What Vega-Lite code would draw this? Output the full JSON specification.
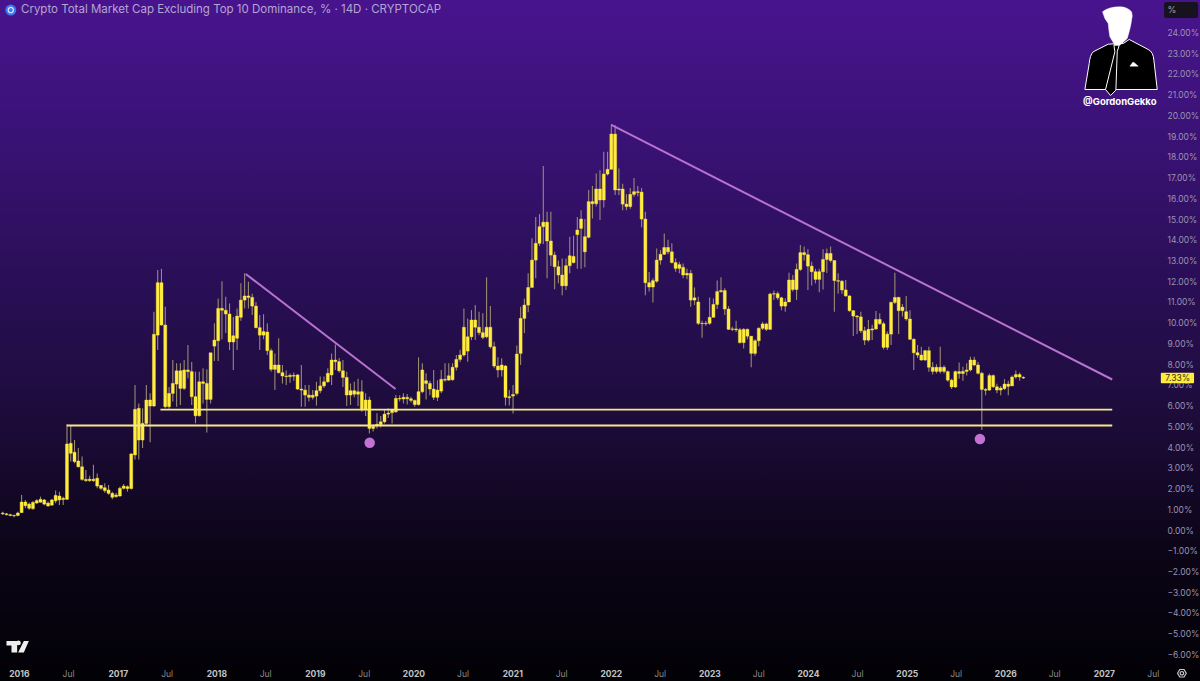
{
  "$schema": "https://vega.github.io/schema/vega-lite/v6.json",
  "width": 1200,
  "height": 681,
  "padding": 0,
  "autosize": {"type": "none"},
  "background": "#020105",
  "view": {
    "stroke": null,
    "fill": {
      "gradient": "linear",
      "x1": 0, "y1": 0, "x2": 0, "y2": 1,
      "stops": [
        {"offset": 0, "color": "#48148e"},
        {"offset": 0.2, "color": "#3a1276"},
        {"offset": 0.4, "color": "#2a0f58"},
        {"offset": 0.6, "color": "#1e0c3c"},
        {"offset": 0.8, "color": "#0c0518"},
        {"offset": 1, "color": "#020105"}
      ]
    }
  },
  "title": {
    "text": "Crypto Total Market Cap Excluding Top 10 Dominance, % · 14D · CRYPTOCAP",
    "anchor": "start",
    "frame": "group",
    "offset": -15,
    "dx": 21,
    "font": "Inter",
    "fontSize": 11.5,
    "fontWeight": "normal",
    "color": "#b5a6d2"
  },
  "datasets": {
    "candles": [
      {"d":"2015-11-02","o":0.82,"h":0.88,"l":0.72,"c":0.78},
      {"d":"2015-11-16","o":0.78,"h":0.82,"l":0.70,"c":0.74},
      {"d":"2015-11-30","o":0.74,"h":0.78,"l":0.66,"c":0.70},
      {"d":"2015-12-14","o":0.70,"h":0.75,"l":0.62,"c":0.68},
      {"d":"2015-12-28","o":0.70,"h":0.88,"l":0.66,"c":0.82},
      {"d":"2016-01-11","o":0.84,"h":1.69,"l":0.82,"c":1.35},
      {"d":"2016-01-25","o":1.35,"h":1.45,"l":1.05,"c":1.17},
      {"d":"2016-02-08","o":1.25,"h":1.33,"l":0.98,"c":1.05},
      {"d":"2016-02-22","o":1.03,"h":1.40,"l":0.98,"c":1.33},
      {"d":"2016-03-07","o":1.30,"h":1.48,"l":1.27,"c":1.42},
      {"d":"2016-03-21","o":1.34,"h":1.61,"l":1.32,"c":1.48},
      {"d":"2016-04-04","o":1.45,"h":1.50,"l":1.20,"c":1.25},
      {"d":"2016-04-18","o":1.30,"h":1.38,"l":1.12,"c":1.16},
      {"d":"2016-05-02","o":1.20,"h":1.50,"l":1.17,"c":1.45},
      {"d":"2016-05-16","o":1.41,"h":1.90,"l":1.29,"c":1.67},
      {"d":"2016-05-30","o":1.64,"h":1.85,"l":1.21,"c":1.45},
      {"d":"2016-06-13","o":1.47,"h":1.61,"l":1.21,"c":1.53},
      {"d":"2016-06-27","o":1.48,"h":5.10,"l":1.45,"c":4.15},
      {"d":"2016-07-11","o":4.18,"h":5.05,"l":3.30,"c":3.70},
      {"d":"2016-07-25","o":3.75,"h":4.34,"l":3.22,"c":3.30},
      {"d":"2016-08-08","o":3.33,"h":3.95,"l":3.02,"c":3.05},
      {"d":"2016-08-22","o":3.05,"h":3.54,"l":2.38,"c":2.44},
      {"d":"2016-09-05","o":2.44,"h":2.89,"l":2.33,"c":2.38},
      {"d":"2016-09-19","o":2.38,"h":2.62,"l":2.33,"c":2.45},
      {"d":"2016-10-03","o":2.45,"h":3.15,"l":2.33,"c":2.38},
      {"d":"2016-10-17","o":2.50,"h":2.73,"l":2.01,"c":2.12},
      {"d":"2016-10-31","o":2.15,"h":2.17,"l":1.93,"c":2.01},
      {"d":"2016-11-14","o":2.04,"h":2.25,"l":1.80,"c":1.90},
      {"d":"2016-11-28","o":1.93,"h":2.17,"l":1.70,"c":1.77},
      {"d":"2016-12-12","o":1.77,"h":1.85,"l":1.48,"c":1.58},
      {"d":"2016-12-26","o":1.61,"h":1.80,"l":1.55,"c":1.69},
      {"d":"2017-01-09","o":1.64,"h":2.09,"l":1.61,"c":2.01},
      {"d":"2017-01-23","o":2.01,"h":2.22,"l":1.95,"c":2.12},
      {"d":"2017-02-06","o":2.09,"h":2.15,"l":1.85,"c":2.00},
      {"d":"2017-02-20","o":2.00,"h":3.70,"l":1.95,"c":3.67},
      {"d":"2017-03-06","o":3.62,"h":7.00,"l":3.40,"c":5.82},
      {"d":"2017-03-20","o":5.87,"h":6.10,"l":3.40,"c":4.34},
      {"d":"2017-04-03","o":4.34,"h":5.87,"l":3.95,"c":5.14},
      {"d":"2017-04-17","o":5.14,"h":7.00,"l":5.07,"c":6.27},
      {"d":"2017-05-01","o":6.27,"h":6.60,"l":4.23,"c":5.98},
      {"d":"2017-05-15","o":5.98,"h":10.53,"l":5.95,"c":9.44},
      {"d":"2017-05-29","o":9.40,"h":12.54,"l":8.68,"c":11.93},
      {"d":"2017-06-12","o":11.93,"h":12.60,"l":9.85,"c":9.89},
      {"d":"2017-06-26","o":9.89,"h":10.77,"l":5.87,"c":5.95},
      {"d":"2017-07-10","o":5.95,"h":6.90,"l":5.85,"c":6.59},
      {"d":"2017-07-24","o":6.59,"h":8.20,"l":6.20,"c":7.07},
      {"d":"2017-08-07","o":7.04,"h":8.04,"l":5.95,"c":7.68},
      {"d":"2017-08-21","o":7.68,"h":8.04,"l":6.03,"c":6.83},
      {"d":"2017-09-04","o":6.83,"h":8.20,"l":6.75,"c":7.72},
      {"d":"2017-09-18","o":7.72,"h":8.92,"l":7.32,"c":7.64},
      {"d":"2017-10-02","o":7.64,"h":8.10,"l":6.03,"c":6.43},
      {"d":"2017-10-16","o":6.43,"h":7.64,"l":5.15,"c":5.51},
      {"d":"2017-10-30","o":5.51,"h":7.64,"l":5.47,"c":7.15},
      {"d":"2017-11-13","o":7.15,"h":7.80,"l":6.10,"c":7.07},
      {"d":"2017-11-27","o":7.07,"h":7.75,"l":4.70,"c":6.30},
      {"d":"2017-12-11","o":6.30,"h":8.55,"l":6.10,"c":8.55},
      {"d":"2017-12-25","o":8.87,"h":9.97,"l":8.15,"c":9.16},
      {"d":"2018-01-08","o":9.13,"h":11.17,"l":8.15,"c":10.69},
      {"d":"2018-01-22","o":10.69,"h":12.00,"l":9.20,"c":10.60},
      {"d":"2018-02-05","o":10.60,"h":11.25,"l":9.50,"c":10.42},
      {"d":"2018-02-19","o":10.42,"h":10.93,"l":8.68,"c":9.07},
      {"d":"2018-03-05","o":9.07,"h":10.28,"l":7.72,"c":9.37},
      {"d":"2018-03-19","o":9.25,"h":10.69,"l":8.68,"c":10.32},
      {"d":"2018-04-02","o":10.26,"h":11.90,"l":10.10,"c":11.09},
      {"d":"2018-04-16","o":11.09,"h":12.38,"l":10.69,"c":11.29},
      {"d":"2018-04-30","o":11.29,"h":11.97,"l":10.69,"c":11.22},
      {"d":"2018-05-14","o":11.22,"h":11.40,"l":10.37,"c":10.80},
      {"d":"2018-05-28","o":10.80,"h":11.00,"l":9.73,"c":9.76},
      {"d":"2018-06-11","o":9.76,"h":10.37,"l":8.68,"c":9.40},
      {"d":"2018-06-25","o":9.40,"h":10.41,"l":9.20,"c":9.57},
      {"d":"2018-07-09","o":9.55,"h":9.97,"l":8.44,"c":8.65},
      {"d":"2018-07-23","o":8.65,"h":8.76,"l":7.64,"c":7.75},
      {"d":"2018-08-06","o":7.75,"h":8.52,"l":6.75,"c":7.96},
      {"d":"2018-08-20","o":7.96,"h":9.25,"l":7.55,"c":7.59},
      {"d":"2018-09-03","o":7.59,"h":7.96,"l":7.07,"c":7.43},
      {"d":"2018-09-17","o":7.43,"h":7.70,"l":7.00,"c":7.40},
      {"d":"2018-10-01","o":7.40,"h":7.55,"l":7.10,"c":7.46},
      {"d":"2018-10-15","o":7.46,"h":7.60,"l":7.20,"c":7.42},
      {"d":"2018-10-29","o":7.48,"h":7.52,"l":6.75,"c":6.80},
      {"d":"2018-11-12","o":6.80,"h":7.96,"l":5.95,"c":6.75},
      {"d":"2018-11-26","o":6.75,"h":7.00,"l":5.95,"c":6.51},
      {"d":"2018-12-10","o":6.51,"h":7.00,"l":6.20,"c":6.40},
      {"d":"2018-12-24","o":6.40,"h":6.75,"l":6.30,"c":6.50},
      {"d":"2019-01-07","o":6.46,"h":7.15,"l":6.00,"c":6.72},
      {"d":"2019-01-21","o":6.72,"h":7.40,"l":6.60,"c":6.95},
      {"d":"2019-02-04","o":6.95,"h":7.40,"l":6.85,"c":7.15},
      {"d":"2019-02-18","o":7.15,"h":7.80,"l":7.10,"c":7.56},
      {"d":"2019-03-04","o":7.48,"h":8.52,"l":7.00,"c":8.20},
      {"d":"2019-03-18","o":8.20,"h":8.95,"l":7.72,"c":8.12},
      {"d":"2019-04-01","o":8.12,"h":8.30,"l":7.60,"c":7.68},
      {"d":"2019-04-15","o":7.68,"h":8.20,"l":6.90,"c":7.36},
      {"d":"2019-04-29","o":7.36,"h":7.64,"l":5.98,"c":6.51},
      {"d":"2019-05-13","o":6.51,"h":7.07,"l":6.03,"c":6.72},
      {"d":"2019-05-27","o":6.72,"h":7.15,"l":6.40,"c":6.55},
      {"d":"2019-06-10","o":6.55,"h":7.30,"l":5.98,"c":6.67},
      {"d":"2019-06-24","o":6.67,"h":7.23,"l":5.71,"c":5.79},
      {"d":"2019-07-08","o":5.80,"h":6.60,"l":5.50,"c":6.27},
      {"d":"2019-07-22","o":6.27,"h":6.43,"l":4.66,"c":4.90},
      {"d":"2019-08-05","o":4.90,"h":5.10,"l":4.75,"c":5.00},
      {"d":"2019-08-19","o":5.02,"h":5.63,"l":4.90,"c":5.10},
      {"d":"2019-09-02","o":5.08,"h":5.50,"l":4.95,"c":5.22},
      {"d":"2019-09-16","o":5.22,"h":5.79,"l":5.14,"c":5.59},
      {"d":"2019-09-30","o":5.59,"h":5.87,"l":5.40,"c":5.64},
      {"d":"2019-10-14","o":5.66,"h":5.85,"l":5.14,"c":5.79},
      {"d":"2019-10-28","o":5.70,"h":6.51,"l":5.66,"c":6.35},
      {"d":"2019-11-11","o":6.35,"h":6.50,"l":6.20,"c":6.32},
      {"d":"2019-11-25","o":6.32,"h":6.60,"l":6.10,"c":6.40},
      {"d":"2019-12-09","o":6.40,"h":6.56,"l":6.05,"c":6.33},
      {"d":"2019-12-23","o":6.33,"h":6.43,"l":6.15,"c":6.25},
      {"d":"2020-01-06","o":6.25,"h":6.30,"l":5.95,"c":6.05},
      {"d":"2020-01-20","o":6.05,"h":8.33,"l":6.00,"c":6.67},
      {"d":"2020-02-03","o":6.67,"h":8.04,"l":6.60,"c":7.72},
      {"d":"2020-02-17","o":7.20,"h":7.56,"l":6.30,"c":7.07},
      {"d":"2020-03-02","o":7.07,"h":7.20,"l":6.50,"c":6.80},
      {"d":"2020-03-16","o":6.80,"h":7.72,"l":6.27,"c":6.40},
      {"d":"2020-03-30","o":6.40,"h":7.23,"l":6.22,"c":6.75},
      {"d":"2020-04-13","o":6.70,"h":7.72,"l":6.60,"c":7.27},
      {"d":"2020-04-27","o":7.27,"h":8.04,"l":7.15,"c":7.23},
      {"d":"2020-05-11","o":7.23,"h":8.04,"l":7.20,"c":7.44},
      {"d":"2020-05-25","o":7.25,"h":8.04,"l":7.20,"c":7.85},
      {"d":"2020-06-08","o":7.85,"h":8.44,"l":7.70,"c":8.23},
      {"d":"2020-06-22","o":8.23,"h":8.70,"l":8.10,"c":8.44},
      {"d":"2020-07-06","o":8.44,"h":10.69,"l":8.36,"c":9.78},
      {"d":"2020-07-20","o":9.32,"h":10.20,"l":8.12,"c":8.63},
      {"d":"2020-08-03","o":9.32,"h":10.61,"l":9.16,"c":10.13},
      {"d":"2020-08-17","o":10.13,"h":10.85,"l":9.16,"c":9.78},
      {"d":"2020-08-31","o":9.78,"h":10.53,"l":9.40,"c":9.52},
      {"d":"2020-09-14","o":9.52,"h":10.45,"l":9.20,"c":9.29},
      {"d":"2020-09-28","o":9.32,"h":12.19,"l":9.25,"c":9.78},
      {"d":"2020-10-12","o":9.78,"h":10.80,"l":8.76,"c":8.84},
      {"d":"2020-10-26","o":8.84,"h":9.08,"l":7.80,"c":7.91},
      {"d":"2020-11-09","o":7.91,"h":8.33,"l":7.36,"c":7.72},
      {"d":"2020-11-23","o":7.72,"h":8.28,"l":7.40,"c":7.96},
      {"d":"2020-12-07","o":7.91,"h":7.96,"l":6.00,"c":6.40},
      {"d":"2020-12-21","o":6.38,"h":6.75,"l":6.00,"c":6.43},
      {"d":"2021-01-04","o":6.46,"h":7.00,"l":5.62,"c":6.54},
      {"d":"2021-01-18","o":6.59,"h":8.90,"l":6.50,"c":8.49},
      {"d":"2021-02-01","o":8.52,"h":10.77,"l":7.96,"c":10.21},
      {"d":"2021-02-15","o":10.21,"h":11.17,"l":9.50,"c":10.85},
      {"d":"2021-03-01","o":10.85,"h":12.38,"l":10.50,"c":11.70},
      {"d":"2021-03-15","o":11.70,"h":14.07,"l":11.74,"c":13.02},
      {"d":"2021-03-29","o":13.02,"h":15.10,"l":12.14,"c":13.83},
      {"d":"2021-04-12","o":13.83,"h":15.24,"l":13.70,"c":14.63},
      {"d":"2021-04-26","o":14.63,"h":17.56,"l":13.80,"c":14.85},
      {"d":"2021-05-10","o":14.85,"h":15.35,"l":12.14,"c":13.94},
      {"d":"2021-05-24","o":13.94,"h":15.35,"l":12.73,"c":13.26},
      {"d":"2021-06-07","o":13.26,"h":13.42,"l":11.61,"c":12.70},
      {"d":"2021-06-21","o":12.70,"h":13.00,"l":11.90,"c":12.30},
      {"d":"2021-07-05","o":12.30,"h":13.10,"l":11.33,"c":11.78},
      {"d":"2021-07-19","o":11.78,"h":13.10,"l":11.58,"c":12.75},
      {"d":"2021-08-02","o":12.75,"h":14.15,"l":12.38,"c":13.23},
      {"d":"2021-08-16","o":13.20,"h":14.20,"l":12.86,"c":12.90},
      {"d":"2021-08-30","o":14.25,"h":15.10,"l":12.60,"c":14.47},
      {"d":"2021-09-13","o":14.55,"h":15.43,"l":12.60,"c":15.00},
      {"d":"2021-09-27","o":14.15,"h":15.00,"l":12.67,"c":13.42},
      {"d":"2021-10-11","o":14.12,"h":16.40,"l":14.07,"c":15.84},
      {"d":"2021-10-25","o":15.84,"h":16.59,"l":15.03,"c":15.74},
      {"d":"2021-11-08","o":15.74,"h":17.20,"l":15.60,"c":16.45},
      {"d":"2021-11-22","o":16.45,"h":17.35,"l":14.95,"c":15.92},
      {"d":"2021-12-06","o":15.92,"h":18.25,"l":15.56,"c":17.17},
      {"d":"2021-12-20","o":17.17,"h":18.25,"l":17.10,"c":17.40},
      {"d":"2022-01-03","o":17.40,"h":19.58,"l":17.40,"c":19.10},
      {"d":"2022-01-17","o":19.10,"h":19.53,"l":16.16,"c":16.40},
      {"d":"2022-01-31","o":16.40,"h":17.44,"l":16.16,"c":16.45},
      {"d":"2022-02-14","o":16.45,"h":16.70,"l":15.43,"c":15.72},
      {"d":"2022-02-28","o":15.72,"h":16.20,"l":15.43,"c":15.60},
      {"d":"2022-03-14","o":15.60,"h":16.50,"l":15.50,"c":16.19},
      {"d":"2022-03-28","o":16.19,"h":16.98,"l":16.08,"c":16.32},
      {"d":"2022-04-11","o":16.32,"h":16.60,"l":16.10,"c":16.28},
      {"d":"2022-04-25","o":16.30,"h":16.50,"l":14.60,"c":15.00},
      {"d":"2022-05-09","o":15.00,"h":15.35,"l":11.33,"c":11.93},
      {"d":"2022-05-23","o":11.93,"h":12.45,"l":11.50,"c":11.72},
      {"d":"2022-06-06","o":11.72,"h":12.14,"l":10.97,"c":12.03},
      {"d":"2022-06-20","o":12.00,"h":13.58,"l":11.93,"c":13.02},
      {"d":"2022-07-04","o":13.02,"h":13.50,"l":12.80,"c":13.30},
      {"d":"2022-07-18","o":13.30,"h":14.30,"l":13.26,"c":13.63},
      {"d":"2022-08-01","o":13.63,"h":14.00,"l":13.30,"c":13.42},
      {"d":"2022-08-15","o":13.42,"h":13.83,"l":12.86,"c":12.90},
      {"d":"2022-08-29","o":12.90,"h":13.10,"l":12.46,"c":12.62},
      {"d":"2022-09-12","o":12.62,"h":12.94,"l":12.38,"c":12.80},
      {"d":"2022-09-26","o":12.67,"h":12.86,"l":12.14,"c":12.30},
      {"d":"2022-10-10","o":12.30,"h":12.60,"l":12.10,"c":12.38},
      {"d":"2022-10-24","o":12.38,"h":12.54,"l":10.77,"c":11.09},
      {"d":"2022-11-07","o":11.09,"h":11.70,"l":10.85,"c":11.20},
      {"d":"2022-11-21","o":11.00,"h":11.25,"l":9.89,"c":9.97},
      {"d":"2022-12-05","o":9.97,"h":10.10,"l":9.27,"c":9.95},
      {"d":"2022-12-19","o":9.95,"h":10.08,"l":9.85,"c":9.97},
      {"d":"2023-01-02","o":9.97,"h":11.22,"l":9.90,"c":10.26},
      {"d":"2023-01-16","o":10.26,"h":11.17,"l":10.26,"c":10.88},
      {"d":"2023-01-30","o":10.88,"h":12.03,"l":10.66,"c":11.50},
      {"d":"2023-02-13","o":11.50,"h":12.19,"l":11.45,"c":11.55},
      {"d":"2023-02-27","o":11.55,"h":11.66,"l":10.37,"c":10.66},
      {"d":"2023-03-13","o":10.66,"h":10.80,"l":9.65,"c":9.68},
      {"d":"2023-03-27","o":9.68,"h":9.80,"l":9.60,"c":9.70},
      {"d":"2023-04-10","o":9.70,"h":10.10,"l":9.55,"c":9.66},
      {"d":"2023-04-24","o":9.66,"h":9.75,"l":9.00,"c":9.04},
      {"d":"2023-05-08","o":9.04,"h":9.73,"l":8.76,"c":9.68},
      {"d":"2023-05-22","o":9.68,"h":9.72,"l":9.20,"c":9.35},
      {"d":"2023-06-05","o":9.35,"h":9.36,"l":7.85,"c":8.52},
      {"d":"2023-06-19","o":8.52,"h":9.20,"l":8.40,"c":9.13},
      {"d":"2023-07-03","o":9.13,"h":9.78,"l":8.87,"c":9.73},
      {"d":"2023-07-17","o":9.73,"h":10.05,"l":9.65,"c":9.94},
      {"d":"2023-07-31","o":9.94,"h":10.00,"l":9.60,"c":9.68},
      {"d":"2023-08-14","o":9.68,"h":11.45,"l":9.65,"c":11.38},
      {"d":"2023-08-28","o":11.38,"h":11.55,"l":11.10,"c":11.40},
      {"d":"2023-09-11","o":11.40,"h":11.50,"l":11.10,"c":11.20},
      {"d":"2023-09-25","o":11.20,"h":11.25,"l":10.60,"c":10.80},
      {"d":"2023-10-09","o":10.80,"h":11.18,"l":10.53,"c":11.00},
      {"d":"2023-10-23","o":11.00,"h":12.41,"l":11.00,"c":12.06},
      {"d":"2023-11-06","o":12.06,"h":12.30,"l":11.50,"c":11.60},
      {"d":"2023-11-20","o":11.60,"h":12.86,"l":11.09,"c":12.57},
      {"d":"2023-12-04","o":12.57,"h":13.75,"l":12.50,"c":13.38},
      {"d":"2023-12-18","o":13.38,"h":13.67,"l":13.00,"c":13.28},
      {"d":"2024-01-01","o":13.28,"h":13.54,"l":11.58,"c":12.73},
      {"d":"2024-01-15","o":12.73,"h":12.94,"l":11.80,"c":12.46},
      {"d":"2024-01-29","o":12.46,"h":12.60,"l":11.90,"c":12.09},
      {"d":"2024-02-12","o":12.09,"h":12.60,"l":11.47,"c":12.46},
      {"d":"2024-02-26","o":12.46,"h":13.54,"l":11.60,"c":13.05},
      {"d":"2024-03-11","o":13.05,"h":13.58,"l":12.40,"c":13.34},
      {"d":"2024-03-25","o":13.34,"h":13.67,"l":12.90,"c":13.00},
      {"d":"2024-04-08","o":13.00,"h":13.00,"l":10.53,"c":12.03},
      {"d":"2024-04-22","o":12.03,"h":12.38,"l":11.40,"c":12.00},
      {"d":"2024-05-06","o":12.00,"h":12.06,"l":11.40,"c":11.58},
      {"d":"2024-05-20","o":11.58,"h":12.06,"l":11.25,"c":11.29},
      {"d":"2024-06-03","o":11.29,"h":11.33,"l":10.53,"c":10.58},
      {"d":"2024-06-17","o":10.58,"h":10.61,"l":9.36,"c":10.32},
      {"d":"2024-07-01","o":10.32,"h":10.37,"l":9.45,"c":10.28},
      {"d":"2024-07-15","o":10.28,"h":10.53,"l":9.50,"c":9.61},
      {"d":"2024-07-29","o":9.61,"h":9.80,"l":8.92,"c":9.16},
      {"d":"2024-08-12","o":9.16,"h":10.13,"l":9.08,"c":9.68},
      {"d":"2024-08-26","o":9.65,"h":9.90,"l":9.16,"c":9.70},
      {"d":"2024-09-09","o":9.70,"h":10.56,"l":9.65,"c":10.16},
      {"d":"2024-09-23","o":10.16,"h":10.45,"l":9.90,"c":9.95},
      {"d":"2024-10-07","o":9.95,"h":10.05,"l":8.71,"c":8.81},
      {"d":"2024-10-21","o":8.81,"h":9.57,"l":8.68,"c":9.45},
      {"d":"2024-11-04","o":9.45,"h":11.01,"l":8.92,"c":10.98},
      {"d":"2024-11-18","o":10.98,"h":12.41,"l":10.90,"c":11.22},
      {"d":"2024-12-02","o":11.22,"h":11.25,"l":9.45,"c":10.58},
      {"d":"2024-12-16","o":10.58,"h":10.90,"l":10.30,"c":10.75},
      {"d":"2024-12-30","o":10.53,"h":11.29,"l":10.10,"c":10.18},
      {"d":"2025-01-13","o":10.18,"h":10.60,"l":9.16,"c":9.20},
      {"d":"2025-01-27","o":9.20,"h":9.25,"l":7.72,"c":8.55},
      {"d":"2025-02-10","o":8.55,"h":8.92,"l":8.30,"c":8.44},
      {"d":"2025-02-24","o":8.44,"h":8.84,"l":8.17,"c":8.20},
      {"d":"2025-03-10","o":8.20,"h":8.68,"l":8.15,"c":8.65},
      {"d":"2025-03-24","o":8.65,"h":8.84,"l":7.64,"c":7.85},
      {"d":"2025-04-07","o":7.85,"h":8.10,"l":7.50,"c":7.65},
      {"d":"2025-04-21","o":7.65,"h":8.00,"l":7.55,"c":7.85},
      {"d":"2025-05-05","o":7.85,"h":8.84,"l":7.55,"c":7.65},
      {"d":"2025-05-19","o":7.65,"h":7.95,"l":7.55,"c":7.85},
      {"d":"2025-06-02","o":7.64,"h":7.70,"l":7.15,"c":7.23},
      {"d":"2025-06-16","o":7.23,"h":7.30,"l":6.80,"c":6.90},
      {"d":"2025-06-30","o":6.90,"h":7.70,"l":6.85,"c":7.64},
      {"d":"2025-07-14","o":7.64,"h":8.08,"l":7.30,"c":7.55},
      {"d":"2025-07-28","o":7.55,"h":7.88,"l":7.20,"c":7.65},
      {"d":"2025-08-11","o":7.65,"h":8.04,"l":7.45,"c":7.72},
      {"d":"2025-08-25","o":7.72,"h":8.36,"l":7.65,"c":8.20},
      {"d":"2025-09-08","o":8.20,"h":8.36,"l":7.90,"c":7.96},
      {"d":"2025-09-22","o":7.96,"h":8.10,"l":7.50,"c":7.56},
      {"d":"2025-10-06","o":7.56,"h":7.64,"l":4.82,"c":6.78},
      {"d":"2025-10-20","o":6.78,"h":6.85,"l":6.50,"c":6.74},
      {"d":"2025-11-03","o":6.75,"h":7.55,"l":6.70,"c":7.45},
      {"d":"2025-11-17","o":7.45,"h":7.50,"l":6.85,"c":6.91},
      {"d":"2025-12-01","o":6.91,"h":7.05,"l":6.60,"c":6.75},
      {"d":"2025-12-15","o":6.75,"h":6.95,"l":6.50,"c":6.85},
      {"d":"2025-12-29","o":6.82,"h":7.28,"l":6.75,"c":7.04},
      {"d":"2026-01-12","o":7.04,"h":7.20,"l":6.50,"c":6.93},
      {"d":"2026-01-26","o":6.95,"h":7.45,"l":7.00,"c":7.38},
      {"d":"2026-02-09","o":7.38,"h":7.70,"l":7.30,"c":7.50},
      {"d":"2026-02-23","o":7.50,"h":7.60,"l":7.20,"c":7.38},
      {"d":"2026-03-09","o":7.36,"h":7.42,"l":7.28,"c":7.33}
    ]
  },
  "data": {"name": "candles"},
  "encoding": {
    "x": {
      "field": "d",
      "type": "temporal",
      "title": null,
      "scale": {
        "type": "utc",
        "padding": 0,
        "domain": [
          {"year": 2015, "month": 10, "date": 23, "utc": true},
          {"year": 2027, "month": 12, "date": 23, "utc": true}
        ]
      },
      "axis": {
        "orient": "bottom",
        "offset": -16,
        "zindex": 0,
        "grid": false,
        "domain": false,
        "ticks": false,
        "labelPadding": 8,
        "labelBaseline": "middle",
        "labelFont": "Inter",
        "labelFontSize": 8.5,
        "labelOverlap": false,
        "labelFlush": false,
        "labelFontWeight": {"condition": {"test": "utcmonth(datum.value) === 0", "value": "bold"}, "value": "normal"},
        "labelColor": {"condition": {"test": "utcmonth(datum.value) === 0", "value": "#c4c4c4"}, "value": "#8a8a8a"},
        "labelExpr": "utcmonth(datum.value) === 0 ? '' + utcyear(datum.value) : 'Jul'",
        "values": [
          {"year": 2016, "month": 1, "date": 1, "utc": true}, {"year": 2016, "month": 7, "date": 1, "utc": true},
          {"year": 2017, "month": 1, "date": 1, "utc": true}, {"year": 2017, "month": 7, "date": 1, "utc": true},
          {"year": 2018, "month": 1, "date": 1, "utc": true}, {"year": 2018, "month": 7, "date": 1, "utc": true},
          {"year": 2019, "month": 1, "date": 1, "utc": true}, {"year": 2019, "month": 7, "date": 1, "utc": true},
          {"year": 2020, "month": 1, "date": 1, "utc": true}, {"year": 2020, "month": 7, "date": 1, "utc": true},
          {"year": 2021, "month": 1, "date": 1, "utc": true}, {"year": 2021, "month": 7, "date": 1, "utc": true},
          {"year": 2022, "month": 1, "date": 1, "utc": true}, {"year": 2022, "month": 7, "date": 1, "utc": true},
          {"year": 2023, "month": 1, "date": 1, "utc": true}, {"year": 2023, "month": 7, "date": 1, "utc": true},
          {"year": 2024, "month": 1, "date": 1, "utc": true}, {"year": 2024, "month": 7, "date": 1, "utc": true},
          {"year": 2025, "month": 1, "date": 1, "utc": true}, {"year": 2025, "month": 7, "date": 1, "utc": true},
          {"year": 2026, "month": 1, "date": 1, "utc": true}, {"year": 2026, "month": 7, "date": 1, "utc": true},
          {"year": 2027, "month": 1, "date": 1, "utc": true}, {"year": 2027, "month": 7, "date": 1, "utc": true}
        ]
      }
    },
    "y": {
      "field": "v",
      "type": "quantitative",
      "title": null,
      "scale": {"domain": [-7.284, 25.567], "nice": false, "zero": false},
      "axis": {
        "orient": "right",
        "offset": -36,
        "zindex": 0,
        "grid": false,
        "domain": false,
        "ticks": false,
        "labelPadding": 3,
        "labelAlign": "left",
        "labelBaseline": "middle",
        "labelFont": "Inter",
        "labelFontSize": 8.5,
        "labelColor": "#9c92b0",
        "labelOverlap": false,
        "labelFlush": false,
        "labelBound": false,
        "values": [-6, -5, -4, -3, -2, -1, 0, 1, 2, 3, 4, 5, 6, 7, 8, 9, 10, 11, 12, 13, 14, 15, 16, 17, 18, 19, 20, 21, 22, 23, 24],
        "labelExpr": "format(datum.value, '.2f') + '%'"
      }
    }
  },
  "layer": [
    {
      "mark": {"type": "rule", "color": "#998a74", "strokeWidth": 1.1},
      "encoding": {
        "y": {"field": "l", "type": "quantitative", "title": null, "scale": {"domain": [-7.284, 25.567], "nice": false, "zero": false}},
        "y2": {"field": "h"}
      }
    },
    {
      "mark": {"type": "bar", "size": 3, "color": "#ffec3d", "stroke": "#ffec3d", "strokeWidth": 0.4},
      "encoding": {
        "y": {"field": "o", "type": "quantitative", "title": null, "scale": {"domain": [-7.284, 25.567], "nice": false, "zero": false}},
        "y2": {"field": "c"}
      }
    },
    {
      "data": {"values": [
        {"id": "upper", "d": "2017-06-08", "v": 5.81},
        {"id": "upper", "d": "2027-02-01", "v": 5.81},
        {"id": "lower", "d": "2016-06-26", "v": 5.04},
        {"id": "lower", "d": "2027-02-01", "v": 5.04}
      ]},
      "mark": {"type": "line", "color": "#f6e88a", "strokeWidth": 1.8},
      "encoding": {
        "detail": {"field": "id"}
      }
    },
    {
      "data": {"values": [
        {"id": "t1", "d": "2018-04-20", "v": 12.35},
        {"id": "t1", "d": "2019-10-27", "v": 6.80},
        {"id": "t2", "d": "2022-01-03", "v": 19.54},
        {"id": "t2", "d": "2027-02-01", "v": 7.26}
      ]},
      "mark": {"type": "line", "color": "#b872cf", "strokeWidth": 2},
      "encoding": {
        "detail": {"field": "id"}
      }
    },
    {
      "data": {"values": [
        {"d": "2019-07-23", "v": 4.21},
        {"d": "2025-09-29", "v": 4.39}
      ]},
      "mark": {"type": "circle", "color": "#c272d2", "opacity": 1, "size": 110}
    },
    {
      "data": {"values": [{"d": "2027-07-31", "d2": "2027-12-01", "v": 7.58, "v2": 7.08}]},
      "mark": {"type": "rect", "color": "#ffeb3b", "cornerRadius": 1},
      "encoding": {
        "x2": {"field": "d2"},
        "y2": {"field": "v2"}
      }
    },
    {
      "data": {"values": [{"d": "2027-10-01", "v": 7.33, "t": "7.33%"}]},
      "mark": {"type": "text", "font": "Inter", "fontSize": 8.5, "color": "#3a3320", "align": "center", "baseline": "middle"},
      "encoding": {
        "text": {"field": "t"}
      }
    },
    {
      "data": {"values": [{"d": "2027-08-12", "d2": "2027-12-16", "v": 25.47, "v2": 24.7}]},
      "mark": {"type": "rect", "color": "#16131f", "cornerRadius": 2},
      "encoding": {
        "x2": {"field": "d2"},
        "y2": {"field": "v2"}
      }
    },
    {
      "data": {"values": [{"d": "2027-09-10", "v": 25.08, "t": "%"}]},
      "mark": {"type": "text", "font": "Inter", "fontSize": 9, "color": "#a0a0a8", "align": "center", "baseline": "middle"},
      "encoding": {
        "text": {"field": "t"}
      }
    },
    {
      "data": {"values": [{"d": "2015-12-02", "v": 25.08}]},
      "mark": {"type": "point", "shape": "circle", "filled": true, "opacity": 1, "size": 120, "color": "#3b78f0"}
    },
    {
      "data": {"values": [{"d": "2015-12-02", "v": 25.08}]},
      "mark": {"type": "point", "shape": "circle", "filled": false, "opacity": 1, "size": 28, "stroke": "#dfe8ff", "strokeWidth": 1.2}
    },
    {
      "data": {"values": [{"d": "2027-03-05", "v": 23.1}]},
      "mark": {
        "type": "point",
        "filled": true,
        "opacity": 1,
        "size": 10000,
        "fill": "#000000",
        "stroke": "#ffffff",
        "strokeWidth": 1,
        "shape": "M-0.253,-0.14 L-0.553,0.013 Q-0.62,0.08 -0.633,0.247 L-0.72,0.767 L0.727,0.767 L0.66,0.18 Q0.647,0.013 0.547,-0.033 L0.167,-0.233 L0.047,-0.153 Z"
      }
    },
    {
      "data": {"values": [{"d": "2027-03-05", "v": 23.1}]},
      "mark": {
        "type": "point",
        "filled": true,
        "opacity": 1,
        "size": 10000,
        "fill": "#ffffff",
        "stroke": "#ffffff",
        "strokeWidth": 0.5,
        "shape": "M-0.02,-0.887 Q-0.24,-0.887 -0.367,-0.787 L-0.32,-0.653 L-0.253,-0.553 Q-0.24,-0.4 -0.22,-0.287 L-0.12,-0.12 L-0.02,-0.12 L0.127,-0.253 Q0.2,-0.5 0.213,-0.62 Q0.24,-0.72 0.213,-0.787 Q0.12,-0.887 -0.02,-0.887 Z M0.18,0.3 L0.347,0.3 L0.267,0.23 L0.24,0.22 Z"
      }
    },
    {
      "data": {"values": [{"d": "2027-03-05", "v": 23.1}]},
      "mark": {
        "type": "point",
        "filled": true,
        "opacity": 1,
        "size": 10000,
        "fill": "#000000",
        "stroke": "#ffffff",
        "strokeWidth": 1,
        "shape": "M-0.14,-0.12 L-0.033,-0.12 L-0.073,0.013 L-0.1,0.78 L-0.207,0.887 L-0.307,0.767 L-0.12,0.013 Z"
      }
    },
    {
      "data": {"values": [{"d": "2027-03-01", "v": 20.64, "t": "@GordonGekko"}]},
      "mark": {"type": "text", "font": "Inter", "fontSize": 9.5, "fontWeight": "bold", "color": "#ffffff", "align": "center", "baseline": "middle"},
      "encoding": {
        "text": {"field": "t"}
      }
    },
    {
      "data": {"values": [{"d": "2015-12-28", "v": -5.64}]},
      "mark": {
        "type": "point",
        "filled": true,
        "opacity": 1,
        "size": 1600,
        "fill": "#eeeeee",
        "strokeWidth": 0,
        "shape": "M-0.567,-0.3 L-0.033,-0.3 L-0.033,0.283 L-0.317,0.283 L-0.317,-0.067 L-0.567,-0.067 Z M0.3,-0.3 L0.55,-0.3 L0.3,0.283 L0.017,0.283 Z M0.15,-0.2 A0.115,0.115 0 1 1 -0.08,-0.2 A0.115,0.115 0 1 1 0.15,-0.2 Z"
      }
    },
    {
      "data": {"values": [{"d": "2027-10-17", "v": -6.91}]},
      "mark": {"type": "point", "shape": "M-0.87,0 L-0.43,-0.75 L0.43,-0.75 L0.87,0 L0.43,0.75 L-0.43,0.75 Z", "filled": false, "opacity": 1, "size": 100, "stroke": "#c8c8c8", "strokeWidth": 1.2}
    },
    {
      "data": {"values": [{"d": "2027-10-17", "v": -6.91}]},
      "mark": {"type": "point", "shape": "circle", "filled": false, "opacity": 1, "size": 12, "stroke": "#c8c8c8", "strokeWidth": 1.2}
    }
  ]
}
